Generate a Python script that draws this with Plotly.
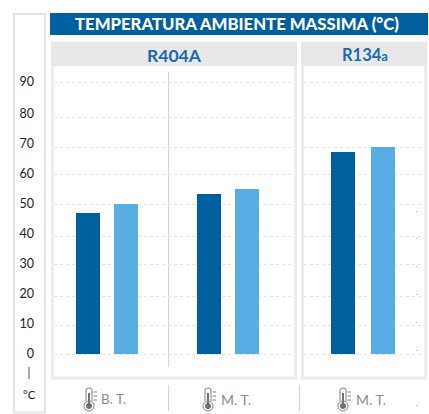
import plotly.graph_objects as go

W, H = 429, 414

# --- data ---
TITLE = "TEMPERATURA AMBIENTE MASSIMA (°C)"
CAT_A = ["B. T.", "M. T."]
CAT_B = ["M. T."]
SERIES_1_A = [47.0, 53.3]
SERIES_2_A = [50.0, 55.0]
SERIES_1_B = [67.3]
SERIES_2_B = [69.0]
TICKS = [0, 10, 20, 30, 40, 50, 60, 70, 80, 90.7]
TICK_LABELS = ["0", "10", "20", "30", "40", "50", "60", "70", "80", "90"]
GRID = [0, 9.6, 19.3, 30, 39.3, 50, 59.7, 69, 78.7, 90.4]
SPECKS = [211, 238, 266, 294, 322, 350, 405]

DARK, LIGHT = "#005F9E", "#58AEE4"
PANEL, BORDER = "#E8E8E8", "#ECECEC"
UNIT = 121.0  # px per category


def px(x):
    return x / W


def py(y):
    return 1 - y / H


def rect(x0, y0, x1, y1, fill=None, line=None, lw=0):
    return dict(type="rect", xref="paper", yref="paper", layer="below",
                x0=px(x0), x1=px(x1), y0=py(y0), y1=py(y1),
                fillcolor=fill or "rgba(0,0,0,0)",
                line=dict(color=line or "rgba(0,0,0,0)", width=lw))


def vline(x, y0, y1, color="#D4D4D4", w=1):
    return dict(type="line", xref="paper", yref="paper", layer="below",
                x0=px(x), x1=px(x), y0=py(y0), y1=py(y1),
                line=dict(color=color, width=w))


def hline(x0, x1, y, color="#A0A0A0", w=1):
    return dict(type="line", xref="paper", yref="paper", layer="below",
                x0=px(x0), x1=px(x1), y0=py(y), y1=py(y),
                line=dict(color=color, width=w))


def thermo(cx):
    c = "#808080"
    s = [
        dict(type="path", xref="paper", yref="paper", layer="above",
             path=(f"M {px(cx-3)} {py(401)} L {px(cx-3)} {py(390)} "
                   f"Q {px(cx-3)} {py(388)} {px(cx)} {py(388)} "
                   f"Q {px(cx+3)} {py(388)} {px(cx+3)} {py(390)} L {px(cx+3)} {py(401)}"),
             line=dict(color=c, width=1)),
        dict(type="circle", xref="paper", yref="paper", layer="above",
             x0=px(cx-5), x1=px(cx+5), y0=py(411), y1=py(401),
             line=dict(color=c, width=1)),
        dict(type="circle", xref="paper", yref="paper", layer="above",
             x0=px(cx-3), x1=px(cx+3), y0=py(409), y1=py(403),
             fillcolor="#707070", line=dict(width=0)),
        vline(cx, 393, 404, "#707070", 2),
    ]
    for yy in (392, 396, 400):
        s.append(hline(cx + 4.5, cx + 8, yy, c))
    return s


fig = go.Figure()
offs = dict(width=24 / UNIT, marker_line_width=0)
fig.add_bar(x=CAT_A, y=SERIES_1_A, marker_color=DARK, offset=-31 / UNIT, xaxis="x", yaxis="y", **offs)
fig.add_bar(x=CAT_A, y=SERIES_2_A, marker_color=LIGHT, offset=7 / UNIT, xaxis="x", yaxis="y", **offs)
fig.add_bar(x=CAT_B, y=SERIES_1_B, marker_color=DARK, offset=-32 / UNIT, xaxis="x2", yaxis="y2", **offs)
fig.add_bar(x=CAT_B, y=SERIES_2_B, marker_color=LIGHT, offset=8 / UNIT, xaxis="x2", yaxis="y2", **offs)

y_range = [(354 - 367) / 3, (354 - 72) / 3]
y_dom = [py(367), py(72)]
grid = dict(tickmode="array", tickvals=GRID, showgrid=True, griddash="dot",
            gridcolor="#E4E4E4", gridwidth=1, ticks="")

shapes = [
    rect(14, 14, 45, 412.5, fill="white", line="#E4E4E4", lw=2),
    rect(50, 13, 428, 35, fill=DARK),
    rect(52.5, 43, 295.5, 378, fill="white", line=BORDER, lw=3),
    rect(51, 42, 297, 66, fill=PANEL),
    rect(302.5, 43, 425.5, 378, fill="white", line=BORDER, lw=3),
    rect(301, 42, 427, 66, fill=PANEL),
    vline(168.5, 72, 367),
    vline(168.5, 385, 411),
    vline(299.5, 385, 411),
    vline(29, 367, 379, "#555555", 1),
]
for cx in (89, 208, 343):
    shapes += thermo(cx)
for sy in SPECKS:
    shapes.append(rect(416, sy, 417, sy + 1, fill="#B0B0B0"))


def note(text, x, y, size, color, weight=400, xref="paper", xshift=0, family="Lato"):
    return dict(text=text, x=px(x) if xref == "paper" else x, y=py(y), xref=xref, yref="paper",
                xanchor="center", yanchor="middle", showarrow=False, xshift=xshift,
                font=dict(family=family, size=size, color=color, weight=weight))


HEAD = "#1A6CAD"
GREY = "#8C8C8C"
annotations = [
    note(TITLE, 237.5, 24, 16.7, "white", 900),
    note("R404A", 174, 55, 17.5, HEAD, 700),
    note('R134<span style="font-size:13px">a</span>', 365, 55, 16.5, HEAD, 700),
    note("°C", 29, 394, 11.5, "#222222", 400),
    note(CAT_A[0], 0, 399, 13.5, GREY, xref="x", xshift=6),
    note(CAT_A[1], 1, 399, 14, GREY, xref="x", xshift=8),
    note(CAT_B[0], 0, 399, 14, GREY, xref="x2", xshift=8),
]

fig.update_layout(
    width=W, height=H, autosize=False,
    margin=dict(l=0, r=0, t=0, b=0),
    paper_bgcolor="white", plot_bgcolor="rgba(0,0,0,0)",
    barmode="overlay", showlegend=False,
    font=dict(family="Lato", color="#222222"),
    xaxis=dict(domain=[px(54), px(292)], range=[(54 - 107) / UNIT, (292 - 107) / UNIT],
               type="category", categoryorder="array", categoryarray=CAT_A,
               showticklabels=False, showgrid=False, zeroline=False, ticks=""),
    xaxis2=dict(domain=[px(304), px(422)], range=[(304 - 363) / UNIT, (422 - 363) / UNIT],
                type="category", showticklabels=False, showgrid=False, zeroline=False, ticks=""),
    yaxis=dict(domain=y_dom, range=y_range, tickmode="array", tickvals=TICKS, ticktext=TICK_LABELS,
               showgrid=False, zeroline=False, ticks="", ticklabelstandoff=19,
               tickfont=dict(family="Lato", size=12.5, color="#222222"), minor=grid),
    yaxis2=dict(domain=y_dom, range=y_range, anchor="x2", tickmode="array", tickvals=TICKS,
                showticklabels=False, showgrid=False, zeroline=False, ticks="", minor=grid),
    shapes=shapes, annotations=annotations,
)
fig.write_html("out.html", config=dict(displayModeBar=False),
               post_script="document.body.style.margin='0';document.body.style.overflow='hidden';")
